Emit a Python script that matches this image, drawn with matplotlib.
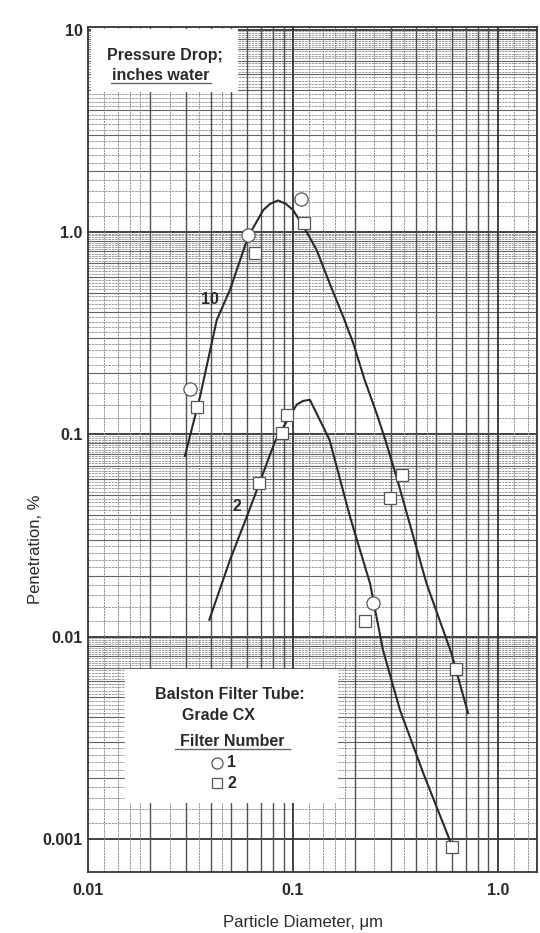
import numpy as np
import matplotlib
matplotlib.use('Agg')
import matplotlib.pyplot as plt
from matplotlib.patches import Rectangle

plt.rcParams['font.family'] = ['Liberation Sans', 'DejaVu Sans']
plt.rcParams['font.weight'] = 'bold'

# measured points (particle diameter in um, penetration in %)
filter1_d = [0.0315, 0.0605, 0.109, 0.247]
filter1_pen = [0.167, 0.97, 1.45, 0.0147]

filter2_d = [0.0339, 0.0653, 0.113, 0.0682, 0.0881, 0.0931, 0.339, 0.297, 0.224, 0.622, 0.601]
filter2_pen = [0.137, 0.79, 1.11, 0.0573, 0.101, 0.1246, 0.0629, 0.0483, 0.012, 0.00692, 0.000915]

# hand drawn curves, pressure drop 10 and 2 inches water
curve10_d = [0.0297, 0.0352, 0.0425, 0.0493, 0.0605, 0.0716, 0.0773, 0.0847, 0.0925, 0.1004,
             0.1167, 0.1305, 0.151, 0.176, 0.197, 0.224, 0.256, 0.281, 0.327, 0.449, 0.594, 0.716]
curve10_pen = [0.078, 0.153, 0.367, 0.517, 0.948, 1.28, 1.375, 1.43, 1.375, 1.28,
               1.0, 0.815, 0.558, 0.381, 0.282, 0.1855, 0.127, 0.0955, 0.0573, 0.0183, 0.00827, 0.00418]

curve2_d = [0.0391, 0.0493, 0.0605, 0.0817, 0.1043, 0.112, 0.121, 0.143, 0.151, 0.19, 0.238,
            0.275, 0.333, 0.433, 0.573, 0.595]
curve2_pen = [0.0121, 0.0239, 0.0407, 0.0919, 0.14, 0.146, 0.148, 0.105, 0.0937, 0.0391, 0.0183,
              0.0086, 0.00434, 0.00211, 0.00103, 0.00093]

xticks = [0.01, 0.1, 1.0]
xtick_labels = ['0.01', '0.1', '1.0']
yticks = [0.001, 0.01, 0.1, 1.0, 10]
ytick_labels = ['0.001', '0.01', '0.1', '1.0', '10']

ink = '#2a2a2a'
fs = 11.5
xlo, xhi = 0.01, 1.55
ylo, yhi = 0.000686, 10.3

fig = plt.figure(figsize=(5.4, 9.33), dpi=100)
ax = fig.add_axes([0.163, 0.0654, 0.831, 0.9057])
ax.set_xscale('log')
ax.set_yscale('log')
ax.set_xlim(xlo, xhi)
ax.set_ylim(ylo, yhi)

# log graph paper
decades = [0.001, 0.01, 0.1, 1.0, 10.0]
fine_y = [k * d for d in decades for k in np.arange(1.2, 10, 0.2) if round(k, 1) % 1 != 0]
mid_y = [k * d for d in decades for k in range(2, 10)]
ax.hlines([v for v in fine_y if ylo < v < yhi], xlo, xhi, colors='#8e8e8e', lw=0.6,
          linestyles=(0, (3, 1)), zorder=1)
ax.hlines([v for v in mid_y if ylo < v < yhi], xlo, xhi, colors='#626262', lw=0.8, zorder=1)
ax.hlines([v for v in decades if ylo < v < yhi], xlo, xhi, colors='#333333', lw=1.3, zorder=1)

fine_x = [k * d for d in decades for k in [1.2, 1.4, 1.6, 1.8, 2.5, 3.5, 4.5]]
mid_x = [k * d for d in decades for k in range(2, 10)]
ax.vlines([v for v in fine_x if xlo < v < xhi], ylo, yhi, colors='#8a8a8a', lw=0.7,
          linestyles=(0, (2, 1)), zorder=1)
ax.vlines([v for v in mid_x if xlo < v < xhi], ylo, yhi, colors='#505050', lw=1.0, zorder=1)
ax.vlines([v for v in decades if xlo < v < xhi], ylo, yhi, colors='#333333', lw=1.3, zorder=1)

ax.plot(curve10_d, curve10_pen, color=ink, lw=1.5, zorder=3)
ax.plot(curve2_d, curve2_pen, color=ink, lw=1.5, zorder=3)

ax.plot(filter1_d, filter1_pen, 'o', ms=9.5, mfc='white', mec='#555555', mew=0.9, zorder=4)
ax.plot(filter2_d, filter2_pen, 's', ms=9, mfc='white', mec='#555555', mew=0.9, zorder=4)

ax.text(0.0394, 0.461, '10', fontsize=fs, color=ink, ha='center', va='center', zorder=5)
ax.text(0.0531, 0.0437, '2', fontsize=fs, color=ink, ha='center', va='center', zorder=5)

# pressure drop box
ax.add_patch(Rectangle((0.007, 0.923), 0.327, 0.075, transform=ax.transAxes,
                       facecolor='white', edgecolor='none', zorder=5))
ax.text(0.171, 0.966, 'Pressure Drop;', transform=ax.transAxes, fontsize=fs,
        color=ink, ha='center', va='center', zorder=6)
ax.text(0.162, 0.942, 'inches water', transform=ax.transAxes, fontsize=fs,
        color=ink, ha='center', va='center', zorder=6)
ax.plot([0.051, 0.274], [0.9335, 0.9335], transform=ax.transAxes, color='#666666', lw=1.0, zorder=6)

# filter legend box
ax.add_patch(Rectangle((0.082, 0.0817), 0.475, 0.158, transform=ax.transAxes,
                       facecolor='white', edgecolor='none', zorder=5))
ax.text(0.317, 0.2095, 'Balston Filter Tube:', transform=ax.transAxes, fontsize=fs,
        color=ink, ha='center', va='center', zorder=6)
ax.text(0.209, 0.1846, 'Grade CX', transform=ax.transAxes, fontsize=fs,
        color=ink, ha='left', va='center', zorder=6)
ax.text(0.322, 0.154, 'Filter Number', transform=ax.transAxes, fontsize=fs,
        color=ink, ha='center', va='center', zorder=6)
ax.plot([0.194, 0.45], [0.1455, 0.1455], transform=ax.transAxes, color='#666666', lw=1.0, zorder=6)
ax.plot([0.287], [0.129], 'o', ms=8, mfc='white', mec='#555555', mew=0.9,
        transform=ax.transAxes, zorder=6)
ax.text(0.31, 0.129, '1', transform=ax.transAxes, fontsize=fs, color=ink,
        ha='left', va='center', zorder=6)
ax.plot([0.287], [0.105], 's', ms=7.5, mfc='white', mec='#555555', mew=0.9,
        transform=ax.transAxes, zorder=6)
ax.text(0.31, 0.105, '2', transform=ax.transAxes, fontsize=fs, color=ink,
        ha='left', va='center', zorder=6)

ax.set_xticks(xticks)
ax.set_xticklabels(xtick_labels)
ax.set_yticks(yticks)
ax.set_yticklabels(ytick_labels)
ax.minorticks_off()
ax.tick_params(axis='both', length=0, labelsize=fs, labelcolor=ink)
ax.tick_params(axis='x', pad=8)
ax.tick_params(axis='y', pad=4)

for s in ax.spines.values():
    s.set_color('#333333')
    s.set_linewidth(1.3)
    s.set_zorder(7)

fig.text(35 / 540, 1 - 549 / 933, 'Penetration, %', rotation=90, fontsize=12,
         fontweight='normal', color=ink, ha='center', va='center')
fig.text(303 / 540, 1 - 922 / 933, 'Particle Diameter, \u03bcm', fontsize=12,
         fontweight='normal', color=ink, ha='center', va='center')

fig.savefig('out.png', dpi=100)
